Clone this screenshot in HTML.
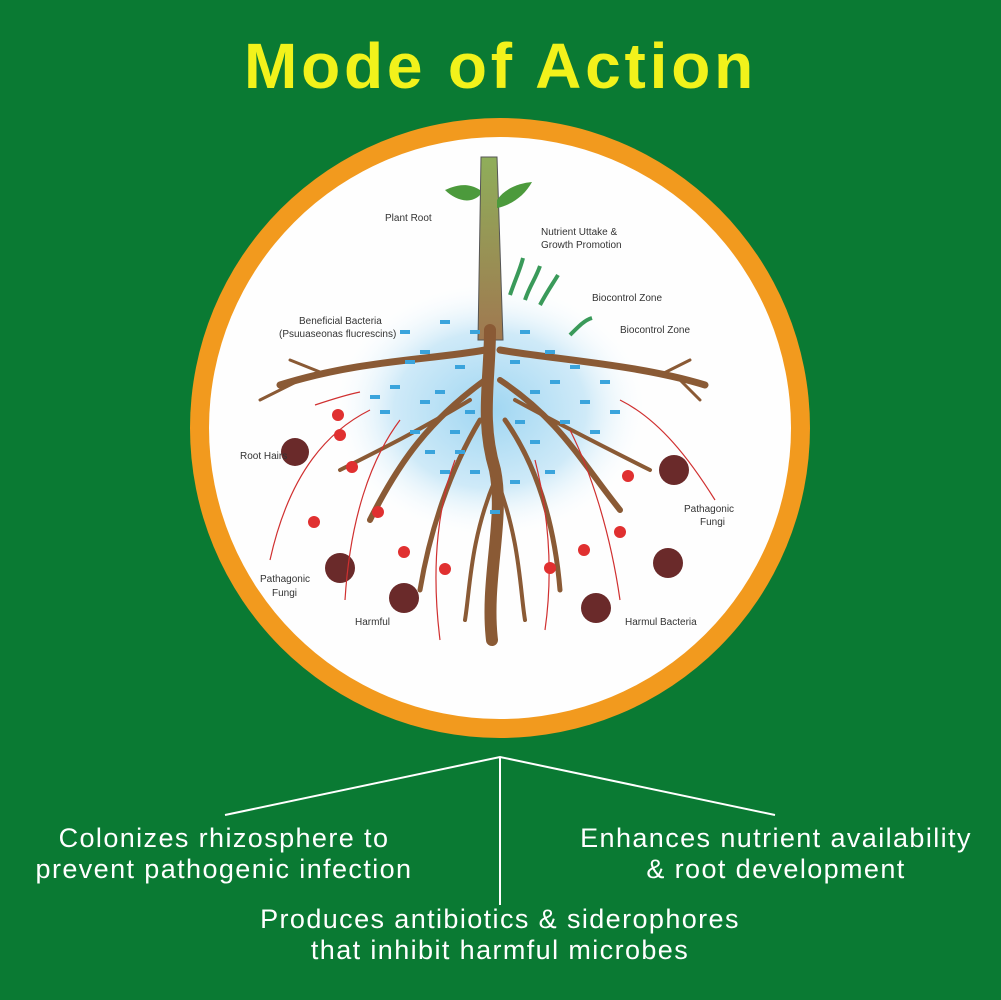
<!DOCTYPE html>
<html><head><meta charset="utf-8"><style>
html,body{margin:0;padding:0;}
body{width:1001px;height:1000px;background:#0a7a33;position:relative;overflow:hidden;font-family:"Liberation Sans",sans-serif;}
.t{position:absolute;color:#fff;text-align:center;font-size:27px;line-height:31px;letter-spacing:1.4px;white-space:nowrap;}
</style></head><body>
<div style="position:absolute;left:0;width:1001px;top:28px;text-align:center;color:#f2f21b;font-weight:bold;font-size:64px;line-height:76px;letter-spacing:3.8px;">Mode of Action</div>
<svg width="1001" height="1000" style="position:absolute;left:0;top:0">
<defs>
<radialGradient id="g" cx="50%" cy="50%" r="50%"><stop offset="0" stop-color="#9fd6f2"/><stop offset="0.6" stop-color="#cfeaf8"/><stop offset="1" stop-color="#fff" stop-opacity="0"/></radialGradient>
<linearGradient id="tr" x1="0" y1="0" x2="0" y2="1"><stop offset="0" stop-color="#8fae5a"/><stop offset="1" stop-color="#a07850"/></linearGradient>
</defs>
<circle cx="500" cy="428" r="310" fill="#f29a1e"/>
<circle cx="500" cy="428" r="291" fill="#fefefe"/>
<ellipse cx="490" cy="410" rx="160" ry="130" fill="url(#g)"/>
<path d="M481,157 L497,157 L503,340 L478,340 Z" fill="url(#tr)" stroke="#555" stroke-width="1"/>
<path d="M480,190 C465,180 450,188 445,190 C455,200 470,205 480,195Z" fill="#4c9a3c"/>
<path d="M497,200 C505,188 520,183 532,182 C525,195 512,205 497,208Z" fill="#4c9a3c"/>
<g fill="none" stroke="#8a5a35" stroke-linecap="round">
<path d="M490,330 C490,380 480,420 495,470 C505,520 485,580 492,640" stroke-width="12"/>
<path d="M485,350 C430,360 360,360 280,385" stroke-width="7"/>
<path d="M500,350 C560,360 640,365 705,385" stroke-width="7"/>
<path d="M485,380 C430,420 400,460 370,520" stroke-width="6"/>
<path d="M500,380 C560,420 580,460 620,510" stroke-width="6"/>
<path d="M480,420 C450,470 430,530 420,590" stroke-width="5"/>
<path d="M505,420 C540,470 555,530 560,590" stroke-width="5"/>
<path d="M470,400 C420,430 380,450 340,470" stroke-width="4"/>
<path d="M515,400 C570,430 610,450 650,470" stroke-width="4"/>
<path d="M495,480 C470,540 470,590 465,620" stroke-width="4"/>
<path d="M497,480 C520,540 520,590 525,620" stroke-width="4"/>
<path d="M300,380 L260,400 M320,372 L290,360 M680,380 L700,400 M660,375 L690,360" stroke-width="3"/>
</g>
<g fill="#3aa4dc">
<rect x="400" y="330" width="10" height="4"/><rect x="420" y="350" width="10" height="4"/><rect x="440" y="320" width="10" height="4"/><rect x="455" y="365" width="10" height="4"/><rect x="520" y="330" width="10" height="4"/><rect x="545" y="350" width="10" height="4"/><rect x="570" y="365" width="10" height="4"/><rect x="530" y="390" width="10" height="4"/><rect x="420" y="400" width="10" height="4"/><rect x="390" y="385" width="10" height="4"/><rect x="580" y="400" width="10" height="4"/><rect x="450" y="430" width="10" height="4"/><rect x="530" y="440" width="10" height="4"/><rect x="470" y="470" width="10" height="4"/><rect x="510" y="480" width="10" height="4"/><rect x="440" y="470" width="10" height="4"/><rect x="560" y="420" width="10" height="4"/><rect x="410" y="430" width="10" height="4"/><rect x="490" y="510" width="10" height="4"/><rect x="600" y="380" width="10" height="4"/><rect x="380" y="410" width="10" height="4"/>
<rect x="405" y="360" width="10" height="4"/><rect x="435" y="390" width="10" height="4"/><rect x="465" y="410" width="10" height="4"/><rect x="510" y="360" width="10" height="4"/><rect x="550" y="380" width="10" height="4"/><rect x="590" y="430" width="10" height="4"/><rect x="515" y="420" width="10" height="4"/><rect x="455" y="450" width="10" height="4"/><rect x="545" y="470" width="10" height="4"/><rect x="425" y="450" width="10" height="4"/><rect x="470" y="330" width="10" height="4"/><rect x="610" y="410" width="10" height="4"/><rect x="370" y="395" width="10" height="4"/>
</g>
<g stroke="#3a9a5a" stroke-width="4" fill="none"><path d="M510,295 C515,280 520,270 523,258"/><path d="M525,300 C530,285 535,280 540,266"/><path d="M540,305 C548,290 552,285 558,275"/><path d="M570,335 C580,325 585,320 592,318"/></g>
<g fill="#6a2a2a"><circle cx="295" cy="452" r="14"/><circle cx="340" cy="568" r="15"/><circle cx="404" cy="598" r="15"/><circle cx="596" cy="608" r="15"/><circle cx="668" cy="563" r="15"/><circle cx="674" cy="470" r="15"/></g>
<g stroke="#d03030" stroke-width="1.2" fill="none">
<path d="M270,560 C290,470 330,430 370,410"/><path d="M345,600 C350,520 370,460 400,420"/><path d="M440,640 C430,560 440,500 455,460"/><path d="M545,630 C555,560 545,500 535,460"/><path d="M620,600 C610,530 590,470 570,430"/><path d="M715,500 C690,460 660,420 620,400"/><path d="M315,405 C330,400 345,395 360,392"/>
</g>
<g fill="#e03030"><circle cx="338" cy="415" r="6"/><circle cx="340" cy="435" r="6"/><circle cx="352" cy="467" r="6"/><circle cx="314" cy="522" r="6"/><circle cx="378" cy="512" r="6"/><circle cx="404" cy="552" r="6"/><circle cx="445" cy="569" r="6"/><circle cx="550" cy="568" r="6"/><circle cx="584" cy="550" r="6"/><circle cx="620" cy="532" r="6"/><circle cx="628" cy="476" r="6"/></g>
<g font-family="Liberation Sans,sans-serif" font-size="10" fill="#333">
<text x="385" y="221">Plant Root</text>
<text x="541" y="235">Nutrient Uttake &amp;</text><text x="541" y="248">Growth Promotion</text>
<text x="592" y="301">Biocontrol Zone</text><text x="620" y="333">Biocontrol Zone</text>
<text x="299" y="324">Beneficial Bacteria</text><text x="279" y="337">(Psuuaseonas flucrescins)</text>
<text x="240" y="459">Root Hairs</text>
<text x="260" y="582">Pathagonic</text><text x="272" y="596">Fungi</text>
<text x="355" y="625">Harmful</text>
<text x="625" y="625">Harmul Bacteria</text>
<text x="684" y="512">Pathagonic</text><text x="700" y="525">Fungi</text>
</g>
<g stroke="#fff" stroke-width="2" fill="none"><path d="M225,815 L500,757 L775,815 M500,757 L500,905"/></g>
</svg>
<div class="t" style="left:0px;width:448px;top:823px;">Colonizes rhizosphere to<br>prevent pathogenic infection</div>
<div class="t" style="left:552px;width:448px;top:823px;">Enhances nutrient availability<br>&amp; root development</div>
<div class="t" style="left:200px;width:600px;top:904px;">Produces antibiotics &amp; siderophores<br>that inhibit harmful microbes</div>
</body></html>
